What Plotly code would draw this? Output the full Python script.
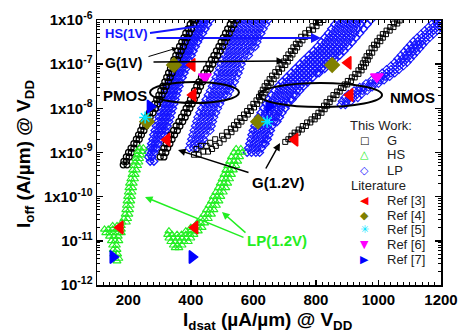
import plotly.graph_objects as go

# ---------------- data: rows of (log10 Ioff [A/um], [Idsat values uA/um]) ----------------
# PMOS, G device, 1 V (black circles)
pmos_g1v = [
    (-9.28, [184, 196]), (-9.20, [186, 194]), (-9.10, [194, 203]), (-9.00, [201, 210]),
    (-8.90, [209, 218]), (-8.80, [218, 227]), (-8.70, [226, 235]), (-8.60, [233, 242]),
    (-8.50, [240, 250]), (-8.40, [246, 256]), (-8.30, [253, 263]), (-8.20, [260, 270]),
    (-8.10, [268, 279]), (-8.00, [276, 287]), (-7.90, [284, 294]), (-7.80, [291, 301]),
    (-7.70, [298, 308]), (-7.60, [304, 315]), (-7.50, [311, 321]), (-7.40, [317, 328]),
    (-7.30, [323, 334]), (-7.20, [329, 340]), (-7.10, [335, 346]), (-7.00, [341, 351]),
    (-6.90, [346, 357]), (-6.80, [352, 363]), (-6.70, [358, 369]), (-6.60, [364, 376]),
    (-6.50, [371, 382]), (-6.40, [378, 389]), (-6.30, [384, 395]), (-6.20, [391, 402]),
    (-6.10, [398, 409]), (-6.00, [405, 416]),
]
# PMOS, HS device, 1 V (blue diamonds, dense)
pmos_hs = [
    (-9.20, [270, 282]), (-9.10, [264, 276]), (-9.00, [264, 274, 284]), (-8.90, [270, 280, 290]),
    (-8.80, [274, 285, 296]), (-8.70, [278, 290, 302]), (-8.60, [281, 293, 305, 315]),
    (-8.50, [285, 297, 309, 320]), (-8.40, [289, 301, 313, 325]), (-8.30, [294, 306, 318, 330]),
    (-8.20, [298, 310, 322, 334]), (-8.10, [302, 314, 326, 338]), (-8.00, [306, 318, 330, 342]),
    (-7.90, [310, 322, 334, 346]), (-7.80, [314, 326, 338, 350]), (-7.70, [318, 330, 342, 354]),
    (-7.60, [322, 334, 346, 358]), (-7.50, [327, 339, 351, 363]), (-7.40, [331, 343, 355, 367]),
    (-7.30, [337, 349, 361, 373]), (-7.20, [343, 355, 367, 379]), (-7.10, [349, 361, 373, 385]),
    (-7.00, [354, 366, 378, 390]), (-6.90, [360, 372, 384, 396]), (-6.80, [366, 378, 390, 402]),
    (-6.70, [372, 384, 396, 408]), (-6.60, [379, 391, 403, 415]), (-6.50, [386, 398, 410, 422]),
    (-6.40, [394, 406, 418, 430]), (-6.30, [402, 414, 426, 438]), (-6.20, [410, 422, 434, 446]),
    (-6.10, [418, 430, 442, 454]), (-6.00, [426, 438, 450, 462]),
]
# PMOS, G device, 1.2 V (black circles)
pmos_g12 = [
    (-9.10, [302, 314]), (-9.00, [308, 320]), (-8.90, [314, 326]), (-8.80, [321, 333]),
    (-8.70, [328, 340]), (-8.60, [336, 348]), (-8.50, [345, 357]), (-8.40, [353, 365]),
    (-8.30, [362, 374]), (-8.20, [370, 382]), (-8.10, [378, 390]), (-8.00, [385, 397]),
    (-7.90, [392, 404]), (-7.80, [399, 411]), (-7.70, [406, 418]), (-7.60, [412, 424]),
    (-7.50, [419, 431]), (-7.40, [426, 438]), (-7.30, [434, 446]), (-7.20, [442, 454]),
    (-7.10, [450, 462]), (-7.00, [458, 470]), (-6.90, [466, 478]), (-6.80, [474, 486]),
    (-6.70, [482, 494]), (-6.60, [490, 502]), (-6.50, [497, 509]), (-6.40, [504, 516]),
    (-6.30, [511, 523]), (-6.20, [518, 530]), (-6.10, [526, 538]), (-6.00, [534, 546]),
]
# PMOS, LP device (blue open diamonds)
pmos_lp = [
    (-8.90, [395, 408, 421]), (-8.80, [398, 411, 424, 437]), (-8.70, [402, 415, 428, 441]),
    (-8.60, [406, 419, 432, 445]), (-8.50, [410, 423, 436, 449, 462]),
    (-8.40, [414, 427, 440, 453, 466]), (-8.30, [418, 431, 444, 457, 470]),
    (-8.20, [422, 435, 448, 461, 474]), (-8.10, [428, 441, 454, 467, 480]),
    (-8.00, [434, 447, 460, 473, 486]), (-7.90, [441, 454, 467, 480, 493]),
    (-7.80, [448, 461, 474, 487, 500]), (-7.70, [455, 468, 481, 494, 507, 518]),
    (-7.60, [462, 475, 488, 501, 514, 525]), (-7.50, [468, 481, 494, 507, 520, 532]),
    (-7.40, [474, 487, 500, 513, 526, 540]), (-7.30, [480, 493, 506, 519, 532, 546]),
    (-7.20, [486, 499, 512, 525, 538, 552]), (-7.10, [491, 504, 517, 530, 543, 557]),
    (-7.00, [496, 509, 522, 535, 548, 562]), (-6.90, [501, 514, 527, 540, 553, 567]),
    (-6.80, [506, 519, 532, 545, 558, 572, 585]), (-6.70, [511, 524, 537, 550, 563, 577, 590]),
    (-6.60, [516, 529, 542, 555, 568, 582, 595, 606]),
    (-6.50, [522, 535, 548, 561, 574, 587, 600, 612]),
    (-6.40, [528, 541, 554, 567, 580, 593, 606, 618]),
    (-6.30, [535, 548, 561, 574, 587, 600, 613, 625]),
    (-6.20, [542, 555, 568, 581, 594, 607, 620, 632]),
    (-6.10, [550, 563, 576, 589, 602, 615, 628, 640]),
    (-6.00, [558, 571, 584, 597, 610, 623, 636, 648]),
]
# NMOS, G device, 1 V (black squares)
nmos_g1v = [
    (-9.05, [410, 425]), (-8.98, [440, 455]), (-8.92, [418, 468]), (-8.85, [432, 450, 480]),
    (-8.78, [462, 492]), (-8.70, [478, 505]), (-8.62, [500, 518]), (-8.54, [515, 530]),
    (-8.46, [528, 542]), (-8.38, [538, 552]), (-8.30, [548, 562]), (-8.22, [558, 572]),
    (-8.14, [570, 582]), (-8.06, [580, 592]), (-7.98, [590, 602]), (-7.90, [600, 612]),
    (-7.82, [610, 622]), (-7.74, [618, 630]), (-7.66, [624, 636]), (-7.58, [630, 642]),
    (-7.50, [636, 648]), (-7.42, [644, 656]), (-7.34, [652, 665]), (-7.26, [660, 674]),
    (-7.18, [670, 682]), (-7.10, [680, 692]), (-7.02, [690, 702]), (-6.94, [697, 710]),
    (-6.86, [704, 718]), (-6.78, [712, 725]), (-6.70, [720, 733]), (-6.62, [728, 740]),
    (-6.54, [736, 748]), (-6.46, [744, 757]), (-6.38, [753, 766]), (-6.30, [766, 779]),
    (-6.22, [778, 791]), (-6.14, [789, 802]), (-6.06, [800, 813]), (-6.00, [810, 824]),
]
# NMOS, HS device, 1 V (blue diamonds, dense)
nmos_hs = [
    (-9.00, [580, 594, 608, 620]), (-8.90, [584, 598, 612, 626]),
    (-8.80, [588, 602, 616, 630, 638]), (-8.70, [592, 606, 620, 634, 645]),
    (-8.60, [595, 609, 623, 637, 650]), (-8.50, [599, 613, 627, 641, 655]),
    (-8.40, [604, 618, 632, 646, 660]), (-8.30, [610, 624, 638, 652, 666, 676]),
    (-8.20, [616, 630, 644, 658, 672, 684]), (-8.10, [624, 638, 652, 666, 680, 692]),
    (-8.00, [632, 646, 660, 674, 688, 702]), (-7.90, [640, 654, 668, 682, 696, 710]),
    (-7.80, [648, 662, 676, 690, 704, 718, 724]), (-7.70, [658, 672, 686, 700, 714, 728, 736]),
    (-7.60, [668, 682, 696, 710, 724, 738, 748]), (-7.50, [679, 693, 707, 721, 735, 749, 761]),
    (-7.40, [692, 706, 720, 734, 748, 762, 775]), (-7.30, [706, 720, 734, 748, 762, 776, 790]),
    (-7.20, [720, 734, 748, 762, 776, 790, 804, 810]),
    (-7.10, [734, 748, 762, 776, 790, 804, 818, 828]),
    (-7.00, [748, 762, 776, 790, 804, 818, 832, 845]),
    (-6.90, [762, 776, 790, 804, 818, 832, 846, 860]),
    (-6.80, [777, 791, 805, 819, 833, 847, 861, 876]),
    (-6.70, [792, 806, 820, 834, 848, 862, 876, 890]),
    (-6.60, [805, 819, 833, 847, 861, 875, 889, 903]),
    (-6.50, [817, 831, 845, 859, 873, 887, 901, 916]),
    (-6.40, [828, 842, 856, 870, 884, 898, 912, 928]),
    (-6.30, [840, 854, 868, 882, 896, 910, 924, 940]),
    (-6.20, [850, 864, 878, 892, 906, 920, 934, 952]),
    (-6.10, [860, 874, 888, 902, 916, 930, 944, 964]),
    (-6.00, [870, 884, 898, 912, 926, 940, 954, 976]),
]
# NMOS, G device, 1.2 V (black squares)
nmos_g12 = [
    (-8.76, [702]), (-8.70, [712, 720]), (-8.62, [722, 732]), (-8.55, [732, 742]),
    (-8.48, [745, 755]), (-8.40, [758, 768]), (-8.32, [772, 782]), (-8.25, [786, 796]),
    (-8.18, [797, 806]), (-8.10, [808, 818]), (-8.02, [818, 828]), (-7.94, [826, 836]),
    (-7.86, [834, 844]), (-7.78, [846, 856]), (-7.70, [856, 866]), (-7.62, [868, 876]),
    (-7.54, [880, 888]), (-7.46, [892, 900]), (-7.38, [902, 912]), (-7.30, [915, 924]),
    (-7.22, [926, 936]), (-7.14, [936, 946]), (-7.06, [944, 954]), (-6.98, [950, 960]),
    (-6.90, [956, 966]), (-6.82, [962, 972]), (-6.74, [970, 980]), (-6.64, [978, 988]),
    (-6.56, [986, 996]), (-6.48, [996, 1006]), (-6.40, [1004, 1014]), (-6.32, [1014, 1024]),
    (-6.24, [1026, 1036]), (-6.16, [1038, 1048]), (-6.08, [1050, 1060]), (-6.01, [1060, 1068]),
]
# NMOS, LP device (blue open diamonds)
nmos_lp = [
    (-7.92, [880, 894]), (-7.84, [884, 898, 912]), (-7.76, [892, 906, 920, 934]),
    (-7.68, [904, 918, 932, 946]), (-7.60, [922, 936, 950, 964]), (-7.52, [940, 954, 968, 980]),
    (-7.44, [960, 974, 988, 1000]), (-7.36, [978, 992, 1006, 1018]),
    (-7.28, [996, 1010, 1024, 1036]), (-7.20, [1012, 1026, 1040, 1052]),
    (-7.12, [1026, 1040, 1054, 1066]), (-7.04, [1040, 1054, 1068, 1080]),
    (-6.96, [1052, 1066, 1080, 1092]), (-6.88, [1062, 1076, 1090, 1102]),
    (-6.80, [1072, 1086, 1100, 1112]), (-6.72, [1082, 1096, 1110, 1122]),
    (-6.64, [1092, 1106, 1120, 1132]), (-6.56, [1102, 1116, 1130, 1142]),
    (-6.48, [1112, 1126, 1140, 1152]), (-6.40, [1124, 1138, 1152, 1164]),
    (-6.32, [1136, 1150, 1164, 1176]), (-6.24, [1148, 1162, 1176, 1188]),
    (-6.16, [1160, 1174, 1188, 1198]), (-6.08, [1172, 1186, 1198]), (-6.00, [1182, 1196]),
]
# 1.2 V green bands (triangles)
green_left = [
    (-8.90, [236, 248]), (-8.98, [230, 244]), (-9.06, [228, 240]), (-9.14, [224, 236]),
    (-9.22, [222, 234]), (-9.30, [218, 230]), (-9.40, [214, 226]), (-9.50, [212, 222]),
    (-9.60, [208, 220]), (-9.70, [204, 216]), (-9.80, [202, 214]), (-9.90, [200, 212]),
    (-10.00, [198, 210]), (-10.10, [196, 208]), (-10.20, [194, 206]), (-10.30, [192, 204]),
    (-10.40, [190, 202]), (-10.50, [186, 198]), (-10.58, [180, 194]),
    (-10.66, [150, 164, 178]), (-10.74, [124, 136, 150, 164, 178]),
    (-10.82, [128, 140, 152, 166, 178]), (-10.90, [140, 154, 168]),
    (-11.00, [146, 158, 170]), (-11.10, [150, 162]), (-11.20, [152, 164]),
    (-11.30, [154, 166]), (-11.40, [158, 170]), (-11.46, [164]),
]
green_right = [
    (-8.92, [545, 560]), (-9.00, [538, 552, 564]), (-9.10, [530, 544, 556]),
    (-9.20, [524, 538, 550]), (-9.30, [518, 532, 544]), (-9.40, [512, 524, 536]),
    (-9.50, [506, 518, 530]), (-9.60, [500, 512, 524]), (-9.70, [494, 506, 518]),
    (-9.80, [488, 500, 512]), (-9.90, [480, 492, 504]), (-10.00, [472, 484, 496]),
    (-10.10, [466, 478, 490]), (-10.20, [458, 470, 482]), (-10.30, [450, 462, 474]),
    (-10.40, [442, 454, 466]), (-10.50, [432, 444, 456]), (-10.60, [420, 432, 444]),
    (-10.70, [400, 412, 424, 436]), (-10.78, [330, 384, 398, 412, 424]),
    (-10.86, [326, 340, 356, 370, 384, 398, 410]), (-10.94, [330, 344, 358, 372, 386, 400]),
    (-11.02, [336, 350, 364, 378, 392]), (-11.10, [344, 358, 372]), (-11.16, [350, 362]),
]

# Literature points
ref3_x = [174, 413, 324, 404, 407, 733, 903, 909]
ref3_y = [2.0e-11, 2.0e-11, 1.95e-9, 9.6e-8, 2.0e-8, 1.95e-9, 1.07e-7, 2.0e-8]
ref4_x = [260, 346, 615, 852]
ref4_y = [5.0e-9, 9.6e-8, 5.0e-9, 9.6e-8]
ref5_x = [254, 644]
ref5_y = [6.2e-9, 5.0e-9]
ref6_x = [445, 995]
ref6_y = [5.2e-8, 5.2e-8]
ref7_x = [270, 151, 404, 650]
ref7_y = [1.1e-8, 4.3e-12, 4.3e-12, 1.1e-8]

x_ticks = [200, 400, 600, 800, 1000, 1200]
y_ticks = [1e-12, 1e-11, 1e-10, 1e-9, 1e-8, 1e-7, 1e-6]
y_ticktext = ["10<sup>-12</sup>", "10<sup>-11</sup>", "1x10<sup>-10</sup>", "1x10<sup>-9</sup>",
              "1x10<sup>-8</sup>", "1x10<sup>-7</sup>", "1x10<sup>-6</sup>"]


def flatten(rows):
    xs, ys = [], []
    for logi, xvals in rows:
        for xv in xvals:
            xs.append(xv)
            ys.append(10 ** logi)
    return xs, ys


BLUE = "#1414ff"
GREEN = "#22ee22"
fig = go.Figure()


def band(rows, symbol, color, size=6, lw=1.1):
    xs, ys = flatten(rows)
    fig.add_trace(go.Scatter(x=xs, y=ys, mode="markers", hoverinfo="skip",
                             marker=dict(symbol=symbol, size=size, color=color,
                                         line=dict(color=color, width=lw))))


band(pmos_hs, "diamond-open", BLUE, 6, 1.3)
band(pmos_lp, "diamond-open", BLUE, 6, 1.1)
band(nmos_hs, "diamond-open", BLUE, 6, 1.3)
band(nmos_lp, "diamond-open", BLUE, 6, 1.1)
band(pmos_g1v, "circle-open", "black", 6, 1.3)
band(pmos_g12, "circle-open", "black", 6, 1.3)
band(nmos_g1v, "square-open", "black", 5, 1.0)
band(nmos_g12, "square-open", "black", 5, 1.0)
band(green_left, "triangle-up-open", GREEN, 7, 1.1)
band(green_right, "triangle-up-open", GREEN, 7, 1.1)

refs = [
    (ref3_x, ref3_y, "triangle-left", "#ff0000", 11),
    (ref4_x, ref4_y, "diamond", "#808000", 11),
    (ref5_x, ref5_y, "asterisk-open", "#00e5ff", 10),
    (ref6_x, ref6_y, "triangle-down", "#ff00ff", 11),
    (ref7_x, ref7_y, "triangle-right", "#0000ff", 11),
]
for rx, ry, sym, col, sz in refs:
    fig.add_trace(go.Scatter(x=rx, y=ry, mode="markers", hoverinfo="skip",
                             marker=dict(symbol=sym, size=sz, color=col,
                                         line=dict(color=col, width=1.5))))

FONT = "Liberation Sans, Arial, sans-serif"
ann = []
shapes = []

# plot area in window pixels: x 97..441, y 20..285
PX0, PX1, PY0, PY1 = 97.0, 441.0, 20.0, 285.0


def dom(px, py):
    return (px - PX0) / (PX1 - PX0), (PY1 - py) / (PY1 - PY0)


def text(px, py, s, size, color="black", bold=True, xanchor="center", family=FONT, angle=0):
    fx, fy = dom(px, py)
    ann.append(dict(x=fx, y=fy, xref="paper", yref="paper", text=s, showarrow=False,
                    xanchor=xanchor, yanchor="middle", textangle=angle,
                    font=dict(family=family, size=size, color=color,
                              weight="bold" if bold else "normal")))


def arrow(tail, tip, color, width=1.5, head=2):
    tx, ty = dom(*tail)
    hx, hy = dom(*tip)
    ann.append(dict(x=hx, y=hy, ax=tx, ay=ty, xref="x domain", yref="y domain",
                    axref="x domain", ayref="y domain", text="", showarrow=True,
                    arrowhead=head, arrowsize=1, arrowwidth=width, arrowcolor=color))


def line(p0, p1, color, width=2):
    x0, y0 = dom(*p0)
    x1, y1 = dom(*p1)
    shapes.append(dict(type="line", xref="x domain", yref="y domain", x0=x0, y0=y0,
                       x1=x1, y1=y1, line=dict(color=color, width=width)))


def ellipse(px0, py0, px1, py1):
    x0, y0 = dom(px0, py1)
    x1, y1 = dom(px1, py0)
    shapes.append(dict(type="circle", xref="x domain", yref="y domain", x0=x0, y0=y0,
                       x1=x1, y1=y1, line=dict(color="black", width=2)))


# labels and pointers
text(126, 33, "HS(1V)", 13, BLUE)
line((150, 33), (200, 26), BLUE, 2)
arrow((155, 38), (321, 38), BLUE, 2)
text(123, 63, "G(1V)", 14)
arrow((147, 57), (177, 48), "black", 1)
arrow((152, 62), (284, 61), "black", 1.5)
text(125, 95, "PMOS", 15)
ellipse(150, 82, 239, 103)
text(412, 97, "NMOS", 15)
ellipse(259, 83, 382, 107)
text(278, 182, "G(1.2V)", 15)
arrow((250, 173), (178, 150), "black", 1.5)
arrow((265, 170), (280, 143), "black", 1.5)
text(277, 240, "LP(1.2V)", 15, GREEN)
arrow((245, 238), (145, 197), GREEN, 1.5)
arrow((247, 234), (222, 212), GREEN, 1.5)

# hand-drawn legend
LEG = "#222222"
text(348, 125, "This Work:", 13, LEG, False, "left")
text(349, 185, "Literature", 13, LEG, False, "left")
legend_rows = [
    (140, "\u25a1", "black", 10, "G"),
    (154, "\u25b3", GREEN, 11, "HS"),
    (170, "\u25c7", BLUE, 11, "LP"),
    (200, "\u25c0", "#ff0000", 11, "Ref [3]"),
    (215, "\u25c6", "#808000", 11, "Ref [4]"),
    (229, "\u2733", "#00e5ff", 11, "Ref [5]"),
    (244, "\u25bc", "#ff00ff", 11, "Ref [6]"),
    (259, "\u25b6", "#0000ff", 11, "Ref [7]"),
]
for py, glyph, col, gsz, lab in legend_rows:
    text(364, py, glyph, gsz, col, False, "center", "DejaVu Sans")
    text(385, py, lab, 13, LEG, False, "left")

# axis titles
text(25, 154, "I<sub>off</sub> (A/\u00b5m) @ V<sub>DD</sub>", 19, angle=-90)
text(268, 321, "I<sub>dsat</sub> (\u00b5A/\u00b5m) @ V<sub>DD</sub>", 19)

fig.update_layout(
    width=459, height=335,
    margin=dict(l=97, r=18, t=20, b=50, autoexpand=False),
    plot_bgcolor="white", paper_bgcolor="white",
    showlegend=False,
    font=dict(family=FONT, color="black"),
    annotations=ann, shapes=shapes,
)
fig.update_xaxes(
    range=[100, 1200], tickmode="array", tickvals=x_ticks, automargin=False,
    ticks="inside", ticklen=5, tickwidth=1.5, tickcolor="black",
    showline=True, linecolor="black", linewidth=1.5, mirror="allticks",
    showgrid=False, zeroline=False,
    tickfont=dict(family=FONT, size=15, weight="bold"),
    minor=dict(ticks="inside", ticklen=3, tickwidth=1, tickcolor="black", dtick=20, tick0=0),
)
y_minor = [m * 10.0 ** e for e in range(-12, -6) for m in range(2, 10)]
fig.update_yaxes(
    type="log", range=[-12, -6], tickmode="array", tickvals=y_ticks, ticktext=y_ticktext,
    automargin=False,
    ticks="inside", ticklen=6, tickwidth=1.5, tickcolor="black",
    showline=True, linecolor="black", linewidth=1.5, mirror="allticks",
    showgrid=False, zeroline=False,
    tickfont=dict(family=FONT, size=15, weight="bold"),
    minor=dict(ticks="inside", ticklen=3, tickwidth=1, tickcolor="black",
               tickmode="array", tickvals=y_minor),
)

# remove the browser's default 8px page margin so the figure fills the window exactly
fig.write_html("out.html",
               config={"displayModeBar": False, "staticPlot": True},
               post_script="document.body.style.margin='0';document.body.style.overflow='hidden';")
